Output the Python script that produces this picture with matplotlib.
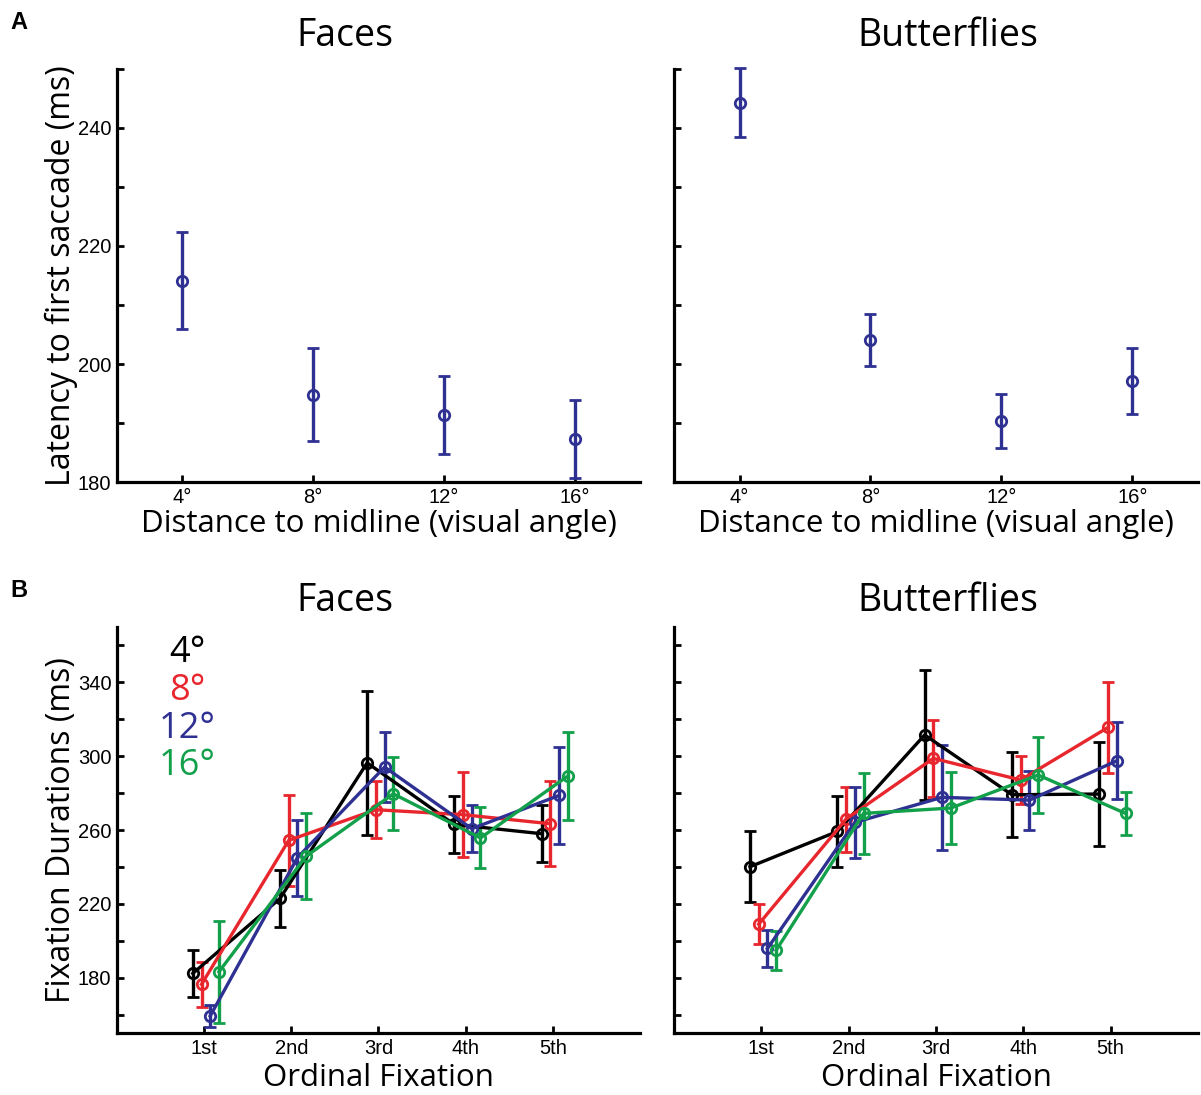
import matplotlib.pyplot as plt
import numpy as np

# Panel A: latency to first saccade (ms)
angles = ['4°', '8°', '12°', '16°']
faces_lat = [214.1, 194.8, 191.3, 187.3]
faces_lat_err = [8.2, 7.9, 6.6, 6.6]
bfly_lat = [244.3, 204.1, 190.3, 197.1]
bfly_lat_err = [5.9, 4.4, 4.6, 5.6]

# Panel B: fixation durations (ms) per ordinal fixation
ordinals = ['1st', '2nd', '3rd', '4th', '5th']
faces_4 = [182.3, 222.9, 296.4, 263.0, 258.0]
faces_4_err = [12.8, 15.4, 39.0, 15.4, 15.4]
faces_8 = [176.4, 254.4, 271.0, 268.3, 263.4]
faces_8_err = [12.2, 24.5, 15.6, 23.0, 23.0]
faces_12 = [159.3, 245.0, 294.1, 260.7, 278.7]
faces_12_err = [6.0, 20.5, 19.0, 12.6, 26.5]
faces_16 = [183.2, 245.8, 279.6, 255.7, 289.2]
faces_16_err = [27.5, 23.4, 19.8, 16.5, 24.0]

bfly_4 = [240.1, 259.2, 311.5, 279.1, 279.5]
bfly_4_err = [19.2, 19.0, 35.0, 23.0, 28.0]
bfly_8 = [209.0, 265.9, 298.8, 287.1, 315.6]
bfly_8_err = [10.8, 17.6, 20.7, 13.0, 24.8]
bfly_12 = [195.8, 264.1, 277.7, 276.2, 297.5]
bfly_12_err = [9.8, 19.0, 28.5, 16.0, 20.8]
bfly_16 = [194.9, 269.0, 271.9, 289.8, 269.0]
bfly_16_err = [10.6, 21.8, 19.6, 20.6, 11.5]

BLACK = '#000000'
RED = '#e8262d'
BLUE = '#2e3192'
GREEN = '#12a04b'
colors = [BLACK, RED, BLUE, GREEN]
offsets = [-0.13, -0.03, 0.07, 0.17]

LABEL_FONT = 'Open Sans'
TICK_FONT = 'Liberation Sans'

fig = plt.figure(figsize=(12.01, 10.95), dpi=100)

ax_al = fig.add_axes([0.0974, 0.5598, 0.4355, 0.3772])
ax_ar = fig.add_axes([0.5612, 0.5598, 0.4363, 0.3772])
ax_bl = fig.add_axes([0.0974, 0.0566, 0.4355, 0.3708])
ax_br = fig.add_axes([0.5612, 0.0566, 0.4363, 0.3708])


def style_axes(ax):
    for s in ['top', 'right']:
        ax.spines[s].set_visible(False)
    for s in ['left', 'bottom']:
        ax.spines[s].set_linewidth(2.3)
    ax.tick_params(direction='in', length=5, width=2.0, labelsize=14.5, pad=4)
    for lab in ax.get_xticklabels() + ax.get_yticklabels():
        lab.set_fontfamily(TICK_FONT)


# ----------------------------
# A. latency panels
# ----------------------------
xa = np.arange(1, len(angles) + 1)
for ax, vals, errs, title, tx in [(ax_al, faces_lat, faces_lat_err, 'Faces', 0.436),
                                   (ax_ar, bfly_lat, bfly_lat_err, 'Butterflies', 0.523)]:
    ax.errorbar(xa, vals, yerr=errs, fmt='o', color=BLUE, mfc='none', mec=BLUE,
                ms=7.5, mew=2.0, elinewidth=2.4, capsize=4, capthick=2.4, clip_on=False)
    ax.set_xlim(0.5, 4.5)
    ax.set_ylim(180, 250)
    ax.set_xticks(xa)
    ax.set_xticklabels(angles)
    ax.set_yticks(np.arange(180, 251, 10))
    if ax is ax_al:
        ax.set_yticklabels([str(v) if v % 20 == 0 and v < 250 else '' for v in range(180, 251, 10)])
        ax.set_ylabel('Latency to first saccade (ms)', fontsize=23, family=LABEL_FONT, labelpad=0)
    else:
        ax.set_yticklabels([])
    ax.set_xlabel('Distance to midline (visual angle)', fontsize=22.5, family=LABEL_FONT, labelpad=2)
    ax.text(tx, 1.08, title, transform=ax.transAxes, ha='center', va='center',
            fontsize=27, family=LABEL_FONT)
    style_axes(ax)

# ----------------------------
# B. fixation duration panels
# ----------------------------
xb = np.arange(1, len(ordinals) + 1)
faces_series = [(faces_4, faces_4_err), (faces_8, faces_8_err),
                (faces_12, faces_12_err), (faces_16, faces_16_err)]
bfly_series = [(bfly_4, bfly_4_err), (bfly_8, bfly_8_err),
               (bfly_12, bfly_12_err), (bfly_16, bfly_16_err)]

for ax, series, title, tx in [(ax_bl, faces_series, 'Faces', 0.436),
                              (ax_br, bfly_series, 'Butterflies', 0.523)]:
    for (vals, errs), c, off in zip(series, colors, offsets):
        ax.errorbar(xb + off, vals, yerr=errs, fmt='-o', color=c, mfc='none', mec=c,
                    ms=7.5, mew=2.0, lw=2.4, elinewidth=2.4, capsize=4, capthick=2.4)
    ax.set_xlim(0, 6)
    ax.set_ylim(150, 370)
    ax.set_xticks(xb)
    ax.set_xticklabels(ordinals)
    ax.set_yticks(np.arange(160, 361, 20))
    if ax is ax_bl:
        ax.set_yticklabels([str(v) if (v - 180) % 40 == 0 else '' for v in range(160, 361, 20)])
        ax.set_ylabel('Fixation Durations (ms)', fontsize=23, family=LABEL_FONT, labelpad=0)
    else:
        ax.set_yticklabels([])
    ax.set_xlabel('Ordinal Fixation', fontsize=22.5, family=LABEL_FONT, labelpad=4)
    ax.text(tx, 1.065, title, transform=ax.transAxes, ha='center', va='center',
            fontsize=27, family=LABEL_FONT)
    style_axes(ax)

# colour key for the eccentricities
for lab, c, ty in zip(angles, colors, [0.936, 0.843, 0.750, 0.657]):
    ax_bl.text(0.134, ty, lab, transform=ax_bl.transAxes, ha='center', va='center',
               fontsize=26, color=c, family=LABEL_FONT)

fig.text(0.009, 0.979, 'A', fontsize=17, fontweight='bold', family=TICK_FONT, va='center')
fig.text(0.009, 0.461, 'B', fontsize=17, fontweight='bold', family=TICK_FONT, va='center')

fig.savefig('out.png', dpi=100)
